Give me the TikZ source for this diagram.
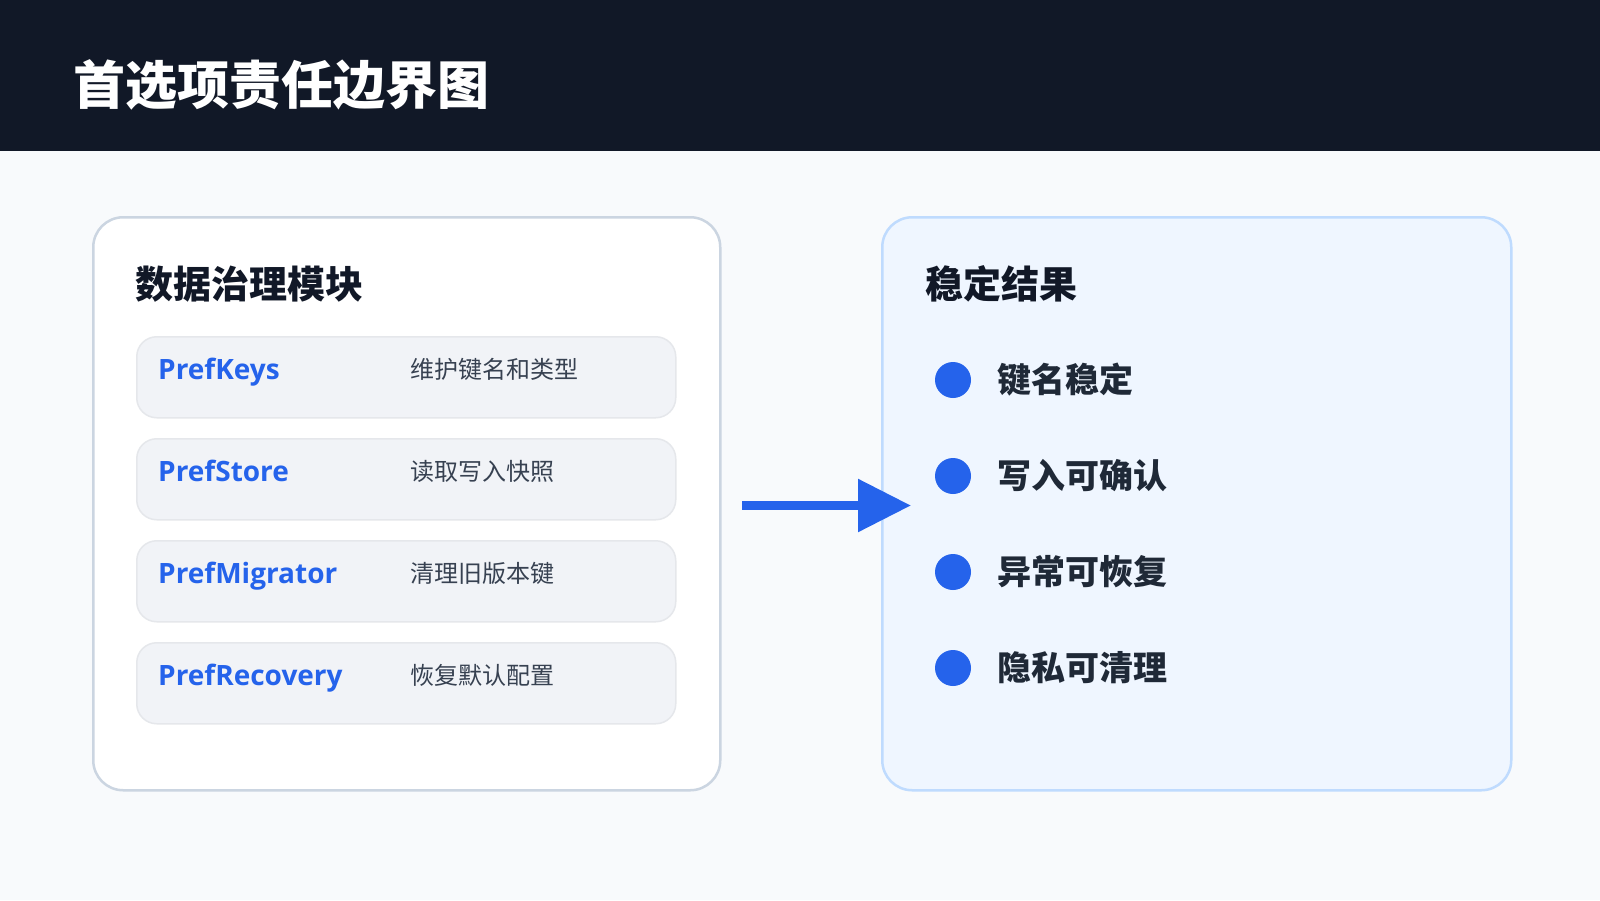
\documentclass[tikz,border=0pt]{standalone}
\usepackage{fontspec}
\setmainfont{Noto Sans CJK SC}
\newfontfamily\latinfont{Open Sans}
\usetikzlibrary{arrows.meta}
\definecolor{hdr}{HTML}{111827}
\definecolor{bgc}{HTML}{F8FAFC}
\definecolor{lborder}{HTML}{CBD5E1}
\definecolor{rowfill}{HTML}{F1F3F7}
\definecolor{rowborder}{HTML}{E5E7EB}
\definecolor{accent}{HTML}{2563EB}
\definecolor{desc}{HTML}{374151}
\definecolor{rfill}{HTML}{EFF6FF}
\definecolor{rborder}{HTML}{BFDBFE}
\definecolor{darktext}{HTML}{111827}
\definecolor{itemtext}{HTML}{1F2937}
\tikzset{
  panelL/.style={draw=lborder, line width=2.5pt, fill=white, rounded corners=30pt, anchor=north west, minimum width=627pt, minimum height=573pt, inner sep=0pt},
  panelR/.style={draw=rborder, line width=2.5pt, fill=rfill, rounded corners=30pt, anchor=north west, minimum width=629pt, minimum height=573pt, inner sep=0pt},
  rowbox/.style={draw=rowborder, line width=1.5pt, fill=rowfill, rounded corners=20pt, anchor=north west, minimum width=539pt, minimum height=81pt, inner sep=0pt},
  pname/.style={anchor=base west, inner sep=0pt, text=accent, font=\latinfont\bfseries\fontsize{28}{31}\selectfont},
  pdesc/.style={anchor=west, inner sep=0pt, text=desc, font=\fontsize{24}{28}\selectfont},
  ptitle/.style={anchor=west, inner sep=0pt, text=darktext, font=\bfseries\fontsize{38}{43}\selectfont},
  bullet/.style={circle, fill=accent, minimum size=36pt, inner sep=0pt},
  itemlbl/.style={anchor=west, inner sep=0pt, text=itemtext, font=\bfseries\fontsize{34}{38}\selectfont},
}
\begin{document}
\begin{tikzpicture}[x=1pt,y=-1pt]
\useasboundingbox (0,0) rectangle (1600,900);
\fill[bgc] (0,0) rectangle (1600,900);
\fill[hdr] (0,0) rectangle (1600,151);
\node[anchor=west, inner sep=0pt, text=white, font=\bfseries\fontsize{52}{58}\selectfont] (title) at (73,85) {首选项责任边界图};

\node[panelL] (left) at (92,216) {};
\node[ptitle] (ltitle) at (135,284) {数据治理模块};

\node[rowbox] (r1) at (136,336) {};
\node[rowbox] (r2) at (136,438) {};
\node[rowbox] (r3) at (136,540) {};
\node[rowbox] (r4) at (136,642) {};
\node[pname] (n1) at (158,379) {PrefKeys};
\node[pname] (n2) at (158,481) {PrefStore};
\node[pname] (n3) at (158,583) {PrefMigrator};
\node[pname] (n4) at (158,685) {PrefRecovery};
\node[pdesc] (d1) at (410,369) {维护键名和类型};
\node[pdesc] (d2) at (410,471) {读取写入快照};
\node[pdesc] (d3) at (410,573) {清理旧版本键};
\node[pdesc] (d4) at (410,675) {恢复默认配置};

\node[panelR] (right) at (881,216) {};
\node[ptitle] (rtitle) at (925,284) {稳定结果};
\node[bullet] (b1) at (953,380) {};
\node[bullet] (b2) at (953,476) {};
\node[bullet] (b3) at (953,572) {};
\node[bullet] (b4) at (953,668) {};
\node[itemlbl] (i1) at (997,380) {键名稳定};
\node[itemlbl] (i2) at (997,476) {写入可确认};
\node[itemlbl] (i3) at (997,572) {异常可恢复};
\node[itemlbl] (i4) at (997,668) {隐私可清理};

\coordinate (as) at (742,505.5);
\coordinate (ae) at (911,505.5);
\draw[accent, line width=9pt, -{Triangle[length=53pt, width=51pt]}] (as) -- (ae);
\end{tikzpicture}
\end{document}
